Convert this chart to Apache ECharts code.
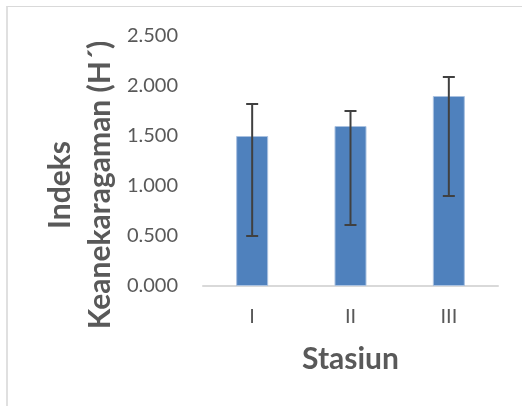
<!DOCTYPE html>
<html>
<head>
<meta charset="utf-8">
<script src="https://cdn.jsdelivr.net/npm/echarts@6/dist/echarts.min.js"></script>
<style>
  html, body { margin: 0; padding: 0; background: #ffffff; }
  #chart { position: absolute; left: 0; top: 0; width: 522px; height: 406px; }
  #frame { position: absolute; left: 6px; top: 6px; width: 600px; height: 500px;
           border-left: 2px solid #e0e0e0; border-top: 1px solid #d9d9d9; pointer-events: none; }
</style>
</head>
<body>
<div id="chart"></div>
<div id="frame"></div>
<script>
const categories = ['I', 'II', 'III'];
const meanValues = [1.5, 1.6, 1.9];
const errorLow = [0.5, 0.61, 0.9];
const errorHigh = [1.82, 1.75, 2.09];
const yTicks = [0, 0.5, 1.0, 1.5, 2.0, 2.5];

const errorData = categories.map((c, i) => [i, errorLow[i], errorHigh[i]]);

const chart = echarts.init(document.getElementById('chart'), null, { renderer: 'canvas' });
chart.setOption({
  animation: false,
  backgroundColor: '#ffffff',
  grid: { left: 203, right: 24, top: 36, bottom: 120, containLabel: false, outerBoundsMode: 'none' },
  xAxis: {
    type: 'category',
    data: categories,
    axisLine: { show: true, lineStyle: { color: '#d9d9d9', width: 2 } },
    axisTick: { show: false },
    axisLabel: { color: '#595959', fontFamily: 'Lato', fontSize: 20, margin: 21 },
    name: 'Stasiun',
    nameLocation: 'middle',
    nameGap: 58,
    nameMoveOverlap: false,
    nameTextStyle: { color: '#595959', fontFamily: 'Lato', fontWeight: 'bold', fontSize: 30 }
  },
  yAxis: {
    type: 'value',
    min: yTicks[0],
    max: yTicks[yTicks.length - 1],
    interval: 0.5,
    axisLine: { show: false },
    axisTick: { show: false },
    splitLine: { show: false },
    axisLabel: {
      color: '#595959', fontFamily: 'Lato', fontSize: 20, margin: 25,
      formatter: v => v.toFixed(3)
    },
    name: 'Indeks\nKeanekaragaman (H´)',
    nameLocation: 'middle',
    nameRotate: 90,
    nameGap: 83,
    nameMoveOverlap: false,
    nameTextStyle: {
      color: '#595959', fontFamily: 'Lato', fontWeight: 'bold', fontSize: 30,
      lineHeight: 40, align: 'center', padding: [0, 48, 0, 0]
    }
  },
  series: [
    {
      type: 'bar',
      data: meanValues,
      barWidth: 32,
      itemStyle: { color: '#4f81bd', borderColor: '#a9c1e0', borderWidth: 1 },
      z: 2
    },
    {
      type: 'custom',
      data: errorData,
      z: 5,
      renderItem: function (params, api) {
        const x = api.value(0);
        const lo = api.coord([x, api.value(1)]);
        const hi = api.coord([x, api.value(2)]);
        const half = 6;
        const style = { stroke: '#404040', lineWidth: 2 };
        return {
          type: 'group',
          children: [
            { type: 'line', shape: { x1: hi[0], y1: hi[1], x2: lo[0], y2: lo[1] }, style: style },
            { type: 'line', shape: { x1: hi[0] - half, y1: hi[1], x2: hi[0] + half, y2: hi[1] }, style: style },
            { type: 'line', shape: { x1: lo[0] - half, y1: lo[1], x2: lo[0] + half, y2: lo[1] }, style: style }
          ]
        };
      }
    }
  ]
});
</script>
</body>
</html>
